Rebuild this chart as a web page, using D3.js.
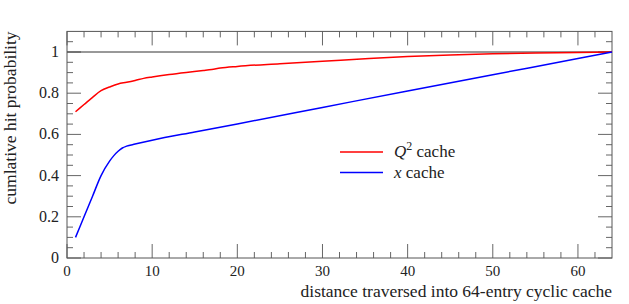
<!DOCTYPE html>
<html>
<head>
<meta charset="utf-8">
<script src="https://cdn.jsdelivr.net/npm/d3@7"></script>
<style>
  body { margin: 0; background: #fff; }
  svg { display: block; }
  text { font-family: "Liberation Serif", "DejaVu Serif", serif; fill: #222; }
</style>
</head>
<body>
<svg id="chart" width="629" height="304"></svg>
<script>
// hit probability vs distance into the 64-entry cyclic cache
const q2Dist = [1, 2, 3, 4, 5, 6, 7, 8, 9, 10, 12, 14, 16, 17, 18, 20, 25, 30, 35, 40, 45, 50, 55, 60, 64];
const q2Hit  = [0.71, 0.745, 0.78, 0.812, 0.83, 0.845, 0.853, 0.862, 0.872, 0.879, 0.891, 0.901, 0.910, 0.915, 0.922, 0.930, 0.943, 0.955, 0.967, 0.978, 0.986, 0.991, 0.995, 0.998, 1.0];

const xDist = [1, 2, 3, 4, 5, 5.5, 6, 6.5, 7, 8, 10, 15, 20, 30, 40, 50, 60, 64];
const xHit  = [0.10, 0.20, 0.30, 0.40, 0.47, 0.497, 0.518, 0.534, 0.543, 0.553, 0.572, 0.612, 0.651, 0.731, 0.811, 0.890, 0.968, 1.0];

const xTicks = [0, 10, 20, 30, 40, 50, 60];
const yTicks = [0, 0.2, 0.4, 0.6, 0.8, 1];

const series = [
  { name: "Q2", dist: q2Dist, hit: q2Hit, color: "#ff0000" },
  { name: "x", dist: xDist, hit: xHit, color: "#0000ff" },
];

const svg = d3.select("#chart");
const plotLeft = 67, plotRight = 612, plotBottom = 258;

const x = d3.scaleLinear().domain([0, 64]).range([plotLeft, plotRight]);
const y = d3.scaleLinear().domain([0, 1]).range([plotBottom, 52]);
const plotTop = y(1.1);

const axisColor = "#555";
const major = 14, minor = 6;

// minor ticks on all four sides
const xMinor = d3.range(2, 64, 2).filter(v => v % 10 !== 0);
const yMinor = d3.range(0.05, 1.1, 0.05).filter(v => Math.abs(v * 5 - Math.round(v * 5)) > 1e-6);

const ticks = svg.append("g").attr("stroke", "#666").attr("stroke-width", 1);
xMinor.forEach(v => {
  ticks.append("line").attr("x1", x(v)).attr("x2", x(v)).attr("y1", plotBottom).attr("y2", plotBottom - minor);
  ticks.append("line").attr("x1", x(v)).attr("x2", x(v)).attr("y1", plotTop).attr("y2", plotTop + minor);
});
xTicks.forEach(v => {
  ticks.append("line").attr("x1", x(v)).attr("x2", x(v)).attr("y1", plotBottom).attr("y2", plotBottom - major);
  ticks.append("line").attr("x1", x(v)).attr("x2", x(v)).attr("y1", plotTop).attr("y2", plotTop + major);
});
yMinor.forEach(v => {
  ticks.append("line").attr("x1", plotLeft).attr("x2", plotLeft + minor).attr("y1", y(v)).attr("y2", y(v));
  ticks.append("line").attr("x1", plotRight).attr("x2", plotRight - minor).attr("y1", y(v)).attr("y2", y(v));
});
yTicks.forEach(v => {
  ticks.append("line").attr("x1", plotLeft).attr("x2", plotLeft + major).attr("y1", y(v)).attr("y2", y(v));
  ticks.append("line").attr("x1", plotRight).attr("x2", plotRight - major).attr("y1", y(v)).attr("y2", y(v));
});

// reference line at probability 1
svg.append("line")
  .attr("x1", plotLeft).attr("x2", plotRight)
  .attr("y1", y(1)).attr("y2", y(1))
  .attr("stroke", "#333").attr("stroke-width", 1);

// frame
svg.append("rect")
  .attr("x", plotLeft).attr("y", plotTop)
  .attr("width", plotRight - plotLeft).attr("height", plotBottom - plotTop)
  .attr("fill", "none").attr("stroke", axisColor).attr("stroke-width", 1);

// tick labels
svg.append("g").selectAll("text")
  .data(xTicks).join("text")
  .attr("x", d => x(d)).attr("y", 276)
  .attr("text-anchor", "middle").attr("font-size", 15)
  .text(d => d);

svg.append("g").selectAll("text")
  .data(yTicks).join("text")
  .attr("x", 59).attr("y", d => y(d) + 5)
  .attr("text-anchor", "end").attr("font-size", 16)
  .text(d => d);

// axis titles
svg.append("text")
  .attr("x", plotRight).attr("y", 297)
  .attr("text-anchor", "end").attr("font-size", 17.5)
  .text("distance traversed into 64-entry cyclic cache");

svg.append("text")
  .attr("transform", `translate(16, ${plotTop}) rotate(-90)`)
  .attr("text-anchor", "end").attr("font-size", 17.5)
  .text("cumlative hit probability");

// curves
const line = d3.line().curve(d3.curveMonotoneX).x(d => x(d[0])).y(d => y(d[1]));
series.forEach(s => {
  svg.append("path")
    .datum(s.dist.map((d, i) => [d, s.hit[i]]))
    .attr("d", line)
    .attr("fill", "none")
    .attr("stroke", s.color)
    .attr("stroke-width", 1.5);
});

// legend
const legend = svg.append("g").attr("transform", "translate(340, 152)");
series.forEach((s, i) => {
  const g = legend.append("g").attr("transform", `translate(0, ${i * 20.5})`);
  g.append("line").attr("x1", 0).attr("x2", 43).attr("y1", 0).attr("y2", 0)
    .attr("stroke", s.color).attr("stroke-width", 1.5);
  const t = g.append("text").attr("x", 54).attr("y", 5).attr("font-size", 17);
  if (s.name === "Q2") {
    t.append("tspan").attr("font-style", "italic").text("Q");
    t.append("tspan").attr("font-size", 12).attr("dy", -7).text("2");
    t.append("tspan").attr("dy", 7).text(" cache");
  } else {
    t.append("tspan").attr("font-style", "italic").text("x");
    t.append("tspan").text(" cache");
  }
});
</script>
</body>
</html>
